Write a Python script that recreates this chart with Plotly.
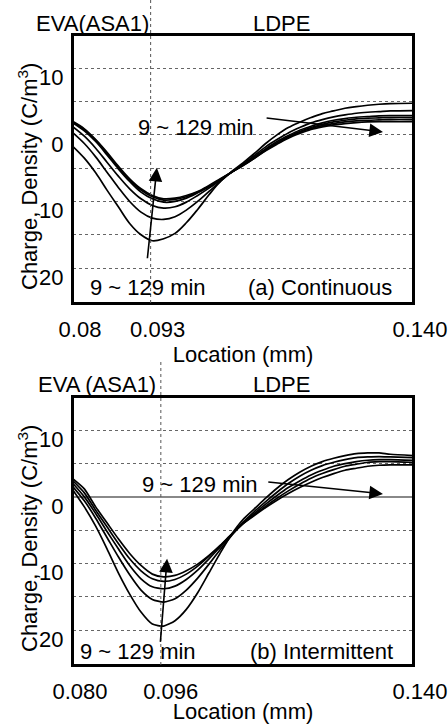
import plotly.graph_objects as go

# ---------------- data ----------------
x_loc = [0.080, 0.082, 0.084, 0.086, 0.088, 0.090, 0.092, 0.094, 0.096, 0.098,
         0.100, 0.102, 0.104, 0.106, 0.108, 0.110, 0.112, 0.114, 0.116, 0.118,
         0.120, 0.122, 0.124, 0.126, 0.128, 0.130, 0.132, 0.134, 0.136, 0.140]

# (a) Continuous, 9 -> 129 min
cont_a = [-1.75, -3.5, -5.7, -8.3, -10.8, -13.3, -15.0, -15.9, -15.6, -14.8, -13.2, -11.2, -9.0, -7.0, -5.5,
          -4.2, -2.8, -1.3, 0.0, 1.1, 1.9, 2.6, 3.2, 3.6, 4.0, 4.25, 4.45, 4.6, 4.7, 4.75]
cont_b = [0.3, -1.3, -3.3, -5.6, -7.9, -10.0, -11.6, -12.5, -12.7, -12.3, -11.3, -10.0, -8.5, -7.0, -5.6,
          -4.4, -3.1, -1.8, -0.7, 0.3, 1.1, 1.8, 2.3, 2.7, 3.0, 3.25, 3.4, 3.5, 3.6, 3.65]
cont_c = [1.2, -0.2, -2.0, -4.1, -6.2, -8.1, -9.6, -10.6, -11.0, -10.8, -10.1, -9.1, -8.0, -6.8, -5.6,
          -4.5, -3.3, -2.1, -1.0, -0.1, 0.7, 1.3, 1.8, 2.2, 2.45, 2.65, 2.75, 2.85, 2.9, 2.9]
cont_d = [1.8, 0.6, -1.0, -3.0, -5.1, -7.0, -8.6, -9.6, -10.1, -10.0, -9.5, -8.7, -7.8, -6.7, -5.6,
          -4.5, -3.4, -2.2, -1.2, -0.3, 0.5, 1.1, 1.6, 1.95, 2.2, 2.4, 2.5, 2.55, 2.6, 2.6]
cont_e = [1.9, 0.8, -0.8, -2.8, -4.9, -6.8, -8.3, -9.3, -9.8, -9.7, -9.3, -8.6, -7.7, -6.7, -5.6,
          -4.6, -3.5, -2.3, -1.3, -0.4, 0.35, 0.95, 1.4, 1.7, 1.95, 2.1, 2.2, 2.25, 2.3, 2.3]
cont_f = [2.0, 0.9, -0.7, -2.6, -4.7, -6.6, -8.1, -9.1, -9.6, -9.5, -9.1, -8.5, -7.6, -6.6, -5.6,
          -4.6, -3.5, -2.4, -1.4, -0.5, 0.2, 0.8, 1.2, 1.5, 1.7, 1.85, 1.95, 2.0, 2.0, 2.0]

# (b) Intermittent, 9 -> 129 min
int_p = [1.0, -1.5, -4.4, -7.8, -11.4, -14.6, -17.3, -19.1, -19.4, -18.6, -16.9, -14.4, -11.4, -8.4, -5.6,
         -3.4, -1.8, -0.2, 1.3, 2.6, 3.7, 4.6, 5.3, 5.8, 6.2, 6.5, 6.6, 6.6, 6.4, 6.2]
int_q = [1.5, -0.6, -3.2, -6.1, -9.0, -11.7, -14.0, -15.4, -15.8, -15.3, -14.0, -12.2, -10.1, -7.9, -5.8,
         -3.8, -2.2, -0.7, 0.7, 2.0, 3.1, 4.0, 4.7, 5.2, 5.6, 5.9, 6.0, 6.05, 6.0, 5.9]
int_r = [2.0, 0.0, -2.5, -5.2, -7.8, -10.3, -12.3, -13.5, -13.8, -13.4, -12.4, -11.0, -9.3, -7.5, -5.7,
         -4.0, -2.5, -1.1, 0.2, 1.4, 2.4, 3.3, 4.0, 4.6, 5.0, 5.3, 5.5, 5.6, 5.6, 5.5]
int_s = [2.4, 0.6, -2.0, -4.5, -7.0, -9.3, -11.1, -12.3, -12.7, -12.4, -11.6, -10.4, -8.9, -7.3, -5.6,
         -4.0, -2.7, -1.4, -0.2, 0.9, 1.9, 2.8, 3.5, 4.1, 4.6, 4.9, 5.2, 5.3, 5.3, 5.2]
int_t = [2.7, 1.2, -1.5, -3.9, -6.3, -8.5, -10.3, -11.6, -12.0, -11.8, -11.1, -10.1, -8.8, -7.3, -5.6,
         -4.0, -2.8, -1.6, -0.5, 0.5, 1.4, 2.2, 2.9, 3.5, 4.0, 4.3, 4.6, 4.75, 4.8, 4.8]

cont_curves = [cont_a, cont_b, cont_c, cont_d, cont_e, cont_f]
int_curves = [int_p, int_q, int_r, int_s, int_t]

interface_top = 0.0937
interface_bot = 0.0955
x_ticks_top = [0.080, interface_top, 0.140]
x_ticktext_top = ["0.08", "0.093", "0.140"]
x_ticks_bot = [0.080, 0.096, 0.140]
x_ticktext_bot = ["0.080", "0.096", "0.140"]
y_ticks = [10, 0, -10, -20]
y_ticktext = ["10", "0", "10", "20"]
y_title = "Charge, Density (C/m<sup>3</sup>)"
x_title = "Location (mm)"

FONT = "Liberation Sans, Arial, sans-serif"
FS = 22

fig = go.Figure()
for c in cont_curves:
    fig.add_trace(go.Scatter(x=x_loc, y=c, mode="lines", xaxis="x", yaxis="y",
                             line=dict(color="black", width=1.7, shape="spline"),
                             showlegend=False, hoverinfo="skip"))
for c in int_curves:
    fig.add_trace(go.Scatter(x=x_loc, y=c, mode="lines", xaxis="x2", yaxis="y2",
                             line=dict(color="black", width=1.7, shape="spline", smoothing=0.6),
                             showlegend=False, hoverinfo="skip"))

W, H = 448, 724
def py(pix):
    return 1 - pix / H

frame = dict(showline=True, mirror=True, linecolor="black", linewidth=2, ticks="",
             automargin=False, ticklabeloverflow="allow",
             tickfont=dict(size=FS, color="black", family=FONT))

xcommon = dict(frame, range=[0.08, 0.14], showgrid=False, zeroline=False,
               ticklabelshift=7, ticklabelstandoff=6,
               title=dict(text=x_title, font=dict(size=FS, color="black", family=FONT), standoff=0))
ycommon = dict(frame, range=[-25.25, 15], tickvals=y_ticks, ticktext=y_ticktext,
               showgrid=True, gridcolor="#666", griddash="dot", gridwidth=1,
               minor=dict(tickvals=[5, -5, -15], showgrid=True, gridcolor="#666", griddash="dot", gridwidth=1),
               ticklabelshift=9, ticklabelstandoff=3)

fig.update_layout(
    width=W, height=H, margin=dict(l=0, r=0, t=0, b=0, autoexpand=False),
    paper_bgcolor="white", plot_bgcolor="white",
    font=dict(family=FONT, size=FS, color="black"),
    xaxis=dict(xcommon, domain=[73 / W, 413 / W], anchor="y", tickvals=x_ticks_top, ticktext=x_ticktext_top),
    yaxis=dict(ycommon, domain=[py(303), py(35)], anchor="x", zeroline=False),
    xaxis2=dict(xcommon, domain=[73 / W, 413 / W], anchor="y2", tickvals=x_ticks_bot, ticktext=x_ticktext_bot),
    yaxis2=dict(ycommon, domain=[py(665), py(397)], anchor="x2", zeroline=True, zerolinecolor="#888", zerolinewidth=2),
)

# plot frames
for xr, yr in (("x domain", "y domain"), ("x2 domain", "y2 domain")):
    fig.add_shape(type="rect", xref=xr, yref=yr, x0=0, x1=1, y0=0, y1=1,
                  line=dict(color="black", width=2), fillcolor="rgba(0,0,0,0)", layer="above")

# interface lines
fig.add_shape(type="line", xref="x", yref="paper", x0=interface_top, x1=interface_top, y0=py(303), y1=1.0,
              line=dict(color="#555", width=1, dash="dot"))
fig.add_shape(type="line", xref="x2", yref="paper", x0=interface_bot, x1=interface_bot, y0=py(665), y1=py(362),
              line=dict(color="#555", width=1, dash="dot"))

def txt(x, y, s, xref, yref, angle=0):
    fig.add_annotation(x=x, y=y, xref=xref, yref=yref, text=s, showarrow=False, textangle=angle,
                       font=dict(size=FS, color="black", family=FONT), xanchor="center", yanchor="middle")

def arrow(x0, y0, x1, y1, xr, yr):
    fig.add_annotation(x=x1, y=y1, ax=x0, ay=y0, xref=xr, yref=yr, axref=xr, ayref=yr, text="",
                       showarrow=True, arrowhead=2, arrowsize=1.7, arrowwidth=1.6, arrowcolor="black")

# y-axis titles (overlapping the tick labels as in the original)
txt(28 / W, py(177), y_title, "paper", "paper", -90)
txt(28 / W, py(539), y_title, "paper", "paper", -90)

# top panel
txt(0.0834, py(23), "EVA(ASA1)", "x", "paper")
txt(0.1168, py(23), "LDPE", "x", "paper")
txt(0.1017, 1.05, "9 ~ 129 min", "x", "y")
txt(0.0932, -22.9, "9 ~ 129 min", "x", "y")
txt(0.1236, -22.9, "(a) Continuous", "x", "y")
arrow(0.1139, 2.55, 0.1347, 0.45, "x", "y")
arrow(0.0931, -18.75, 0.0948, -4.95, "x", "y")

# bottom panel
txt(0.0843, py(385), "EVA (ASA1)", "x2", "paper")
txt(0.1168, py(385), "LDPE", "x2", "paper")
txt(0.1024, 1.8, "9 ~ 129 min", "x2", "y2")
txt(0.0915, -23.2, "9 ~ 129 min", "x2", "y2")
txt(0.1239, -23.2, "(b) Intermittent", "x2", "y2")
arrow(0.1142, 2.25, 0.1347, 0.45, "x2", "y2")
arrow(0.0954, -22.0, 0.0966, -9.3, "x2", "y2")

fig.write_html("out.html", config={"displayModeBar": False},
               post_script="document.body.style.margin='0';document.body.style.padding='0';")
